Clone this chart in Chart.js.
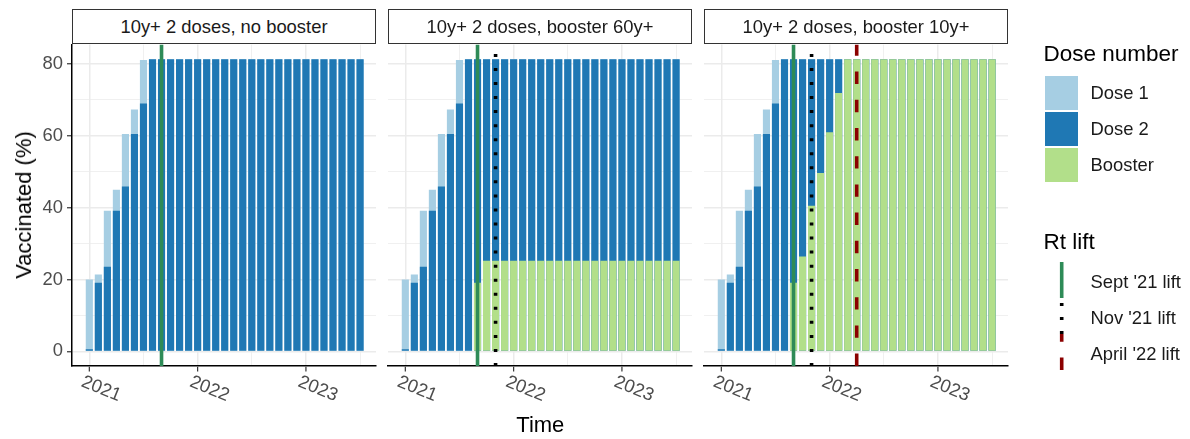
<!DOCTYPE html>
<html>
<head>
<meta charset="utf-8">
<script src="https://cdn.jsdelivr.net/npm/chart.js@4.4.1/dist/chart.umd.min.js"></script>
<style>
  html, body { margin:0; padding:0; background:#fff; }
  body { width:1190px; height:439px; overflow:hidden; position:relative; font-family:"Liberation Sans", Arial, sans-serif; }
  canvas { position:absolute; left:0; top:0; }
  .strip { position:absolute; top:9.3px; height:35px; width:304px; box-sizing:border-box; border:1.3px solid #333; background:#fff;
           font-size:18.4px; color:#1a1a1a; display:flex; align-items:center; justify-content:center; white-space:nowrap; z-index:5; }
  .title { position:absolute; font-size:22px; line-height:22px; color:#000; white-space:nowrap; }
  .ltitle { position:absolute; font-size:22.5px; line-height:22.5px; color:#000; white-space:nowrap; left:1043.5px; }
  .lkey { position:absolute; left:1045px; width:33px; height:34.5px; }
  .llab { position:absolute; left:1090.5px; height:36px; font-size:18.4px; color:#1a1a1a; display:flex; align-items:center; white-space:nowrap; }
</style>
</head>
<body>
<canvas id="p0" width="1190" height="439"></canvas>
<canvas id="p1" width="1190" height="439"></canvas>
<canvas id="p2" width="1190" height="439"></canvas>
<div id="strips"></div>
<div class="title" id="ytitle" style="left:24px; top:205px; transform:translate(-50%,-50%) rotate(-90deg);"></div>
<div class="title" id="xtitle" style="left:540.3px; top:414px; transform:translateX(-50%);"></div>
<div id="legend"></div>
<svg id="lsvg" width="1190" height="439" style="position:absolute;left:0;top:0;pointer-events:none"></svg>
<script>
// ---------------- DATA ----------------
const months = ['2021-01','2021-02','2021-03','2021-04','2021-05','2021-06','2021-07','2021-08','2021-09','2021-10',
                '2021-11','2021-12','2022-01','2022-02','2022-03','2022-04','2022-05','2022-06','2022-07','2022-08',
                '2022-09','2022-10','2022-11','2022-12','2023-01','2023-02','2023-03','2023-04','2023-05','2023-06','2023-07'];
const dose1 = [20.0, 21.4, 39.1, 44.9, 60.4, 67.2, 81.0, 81.2, 81.2, 81.2,
               81.2, 81.2, 81.2, 81.2, 81.2, 81.2, 81.2, 81.2, 81.2, 81.2,
               81.2, 81.2, 81.2, 81.2, 81.2, 81.2, 81.2, 81.2, 81.2, 81.2, 81.2];
const dose2 = [0.6, 19.1, 23.5, 39.1, 45.8, 60.4, 68.9, 81.2, 81.2, 81.2,
               81.2, 81.2, 81.2, 81.2, 81.2, 81.2, 81.2, 81.2, 81.2, 81.2,
               81.2, 81.2, 81.2, 81.2, 81.2, 81.2, 81.2, 81.2, 81.2, 81.2, 81.2];
const boosterNone = null;
const booster60 = [0, 0, 0, 0, 0, 0, 0, 0, 19.1, 25.2,
                   25.2, 25.2, 25.2, 25.2, 25.2, 25.2, 25.2, 25.2, 25.2, 25.2,
                   25.2, 25.2, 25.2, 25.2, 25.2, 25.2, 25.2, 25.2, 25.2, 25.2, 25.2];
const booster10 = [0, 0, 0, 0, 0, 0, 0, 0, 19.1, 26.4,
                   40.5, 49.6, 60.9, 71.8, 81.2, 81.2, 81.2, 81.2, 81.2, 81.2,
                   81.2, 81.2, 81.2, 81.2, 81.2, 81.2, 81.2, 81.2, 81.2, 81.2, 81.2];
const panelTitles = ['10y+ 2 doses, no booster', '10y+ 2 doses, booster 60y+', '10y+ 2 doses, booster 10y+'];
const panelBoosters = [boosterNone, booster60, booster10];
const liftLabels = ["Sept '21 lift", "Nov '21 lift", "April '22 lift"];
const liftDates = ['2021-09', '2021-11', '2022-04'];
const panelLifts = [[0], [0, 1], [0, 1, 2]];
const doseLabels = ['Dose 1', 'Dose 2', 'Booster'];
const yTickLabels = [0, 20, 40, 60, 80];
const yMinorTicks = [10, 30, 50, 70];
const xTickLabels = ['2021', '2022', '2023'];
const xMinorTicks = [2021.5, 2022.5, 2023.5];
const yTitle = 'Vaccinated (%)';
const xTitle = 'Time';
const legendTitles = ['Dose number', 'Rt lift'];

// ---------------- STYLE ----------------
const doseColors = ['#A6CEE3', '#1F78B4', '#B2DF8A'];
const liftStyles = [
  { color:'#2E8B57', dash:[] },
  { color:'#000000', dash:[3, 11.05] },
  { color:'#8B0000', dash:[12.4, 15.8] }
];
const FONT = '"Liberation Sans", Arial, sans-serif';
const X_MIN = 2020.840, X_MAX = 2023.647;
const Y_MIN = -4.06, Y_MAX = 85.26;
const panelLeft = [72, 388, 704];
const PANEL_W = 304, AREA_TOP = 44.6, AREA_BOTTOM = 366, W = 1190, H = 439;

const toYear = s => Number(s.slice(0, 4)) + (Number(s.slice(5, 7)) - 1) / 12;
const xs = months.map(toYear);
const pts = arr => arr.map((v, i) => ({ x: xs[i], y: v }));
const xMajor = xTickLabels.map(Number);

const xAxisPlugin = {
  id: 'xAxisTicks',
  afterDraw(chart) {
    const { ctx, chartArea } = chart;
    const sx = chart.scales.x;
    ctx.save();
    xMajor.forEach((v, i) => {
      const px = sx.getPixelForValue(v);
      ctx.strokeStyle = '#333333';
      ctx.lineWidth = 1.2;
      ctx.beginPath();
      ctx.moveTo(px, chartArea.bottom + 0.7);
      ctx.lineTo(px, chartArea.bottom + 5.5);
      ctx.stroke();
      ctx.save();
      ctx.translate(px - 9, chartArea.bottom + 20);
      ctx.rotate(22 * Math.PI / 180);
      ctx.fillStyle = '#4D4D4D';
      ctx.font = '18.4px ' + FONT;
      ctx.textAlign = 'left';
      ctx.textBaseline = 'alphabetic';
      ctx.fillText(xTickLabels[i], 0, 0);
      ctx.restore();
    });
    ctx.restore();
  }
};

function makePanel(p) {
  const left = panelLeft[p];
  const right = left + PANEL_W;
  const first = p === 0;
  const datasets = [];
  panelLifts[p].forEach(li => {
    const x = toYear(liftDates[li]);
    datasets.push({
      type: 'line', label: liftLabels[li], order: 0,
      data: [{ x: x, y: Y_MIN }, { x: x, y: Y_MAX }],
      borderColor: liftStyles[li].color, borderWidth: 3.6, borderDash: liftStyles[li].dash,
      borderCapStyle: 'butt', pointRadius: 0, fill: false, tension: 0
    });
  });
  if (panelBoosters[p]) {
    datasets.push({ label: doseLabels[2], order: 1, data: pts(panelBoosters[p]), backgroundColor: doseColors[2] });
  }
  datasets.push({ label: doseLabels[1], order: 2, data: pts(dose2), backgroundColor: doseColors[1] });
  datasets.push({ label: doseLabels[0], order: 3, data: pts(dose1), backgroundColor: doseColors[0] });

  const yTicksAll = yTickLabels.concat(yMinorTicks).sort((a, b) => a - b);
  const xTicksAll = xMajor.concat(xMinorTicks).sort((a, b) => a - b);

  new Chart(document.getElementById('p' + p), {
    type: 'bar',
    data: { datasets },
    options: {
      responsive: false, animation: false, devicePixelRatio: 1,
      datasets: { bar: { grouped: false, barPercentage: 0.79, categoryPercentage: 1.0, borderWidth: 0 } },
      layout: { padding: { left: first ? 0 : left, right: W - right, top: AREA_TOP, bottom: H - AREA_BOTTOM } },
      plugins: { legend: { display: false }, tooltip: { enabled: false } },
      scales: {
        x: {
          type: 'linear', min: X_MIN, max: X_MAX, offset: false,
          afterBuildTicks: s => { s.ticks = xTicksAll.map(v => ({ value: v })); },
          afterFit: s => { s.height = 0; },
          ticks: { display: false },
          grid: { offset: false, drawTicks: false, color: '#EBEBEB',
                  lineWidth: c => (c.tick && xMajor.includes(c.tick.value)) ? 1.5 : 0.75 },
          border: { display: true, color: '#000000', width: 1.5 }
        },
        y: {
          type: 'linear', min: Y_MIN, max: Y_MAX, stacked: false,
          afterBuildTicks: s => { s.ticks = yTicksAll.map(v => ({ value: v })); },
          afterFit: s => { s.width = first ? 72 : 0; },
          ticks: { display: first, padding: 4, color: '#4D4D4D', font: { family: FONT, size: 18.4 },
                   callback: v => yTickLabels.includes(v) ? String(v) : '' },
          grid: { drawTicks: first, tickLength: 5, color: '#EBEBEB',
                  tickColor: c => (c.tick && yTickLabels.includes(c.tick.value)) ? '#333333' : 'rgba(0,0,0,0)',
                  tickWidth: 1.2,
                  lineWidth: c => (c.tick && yTickLabels.includes(c.tick.value)) ? 1.5 : 0.75 },
          border: { display: first, color: '#000000', width: 1.5 }
        }
      }
    },
    plugins: [xAxisPlugin]
  });
}
[0, 1, 2].forEach(makePanel);

// strips
const strips = document.getElementById('strips');
panelTitles.forEach((t, p) => {
  const d = document.createElement('div');
  d.className = 'strip';
  d.style.left = panelLeft[p] + 'px';
  d.textContent = t;
  strips.appendChild(d);
});
document.getElementById('ytitle').textContent = yTitle;
document.getElementById('xtitle').textContent = xTitle;

// legend
const lg = document.getElementById('legend');
function addDiv(cls, text, style) {
  const d = document.createElement('div');
  d.className = cls;
  if (text) d.textContent = text;
  Object.assign(d.style, style);
  lg.appendChild(d);
  return d;
}
addDiv('ltitle', legendTitles[0], { top: '43px' });
doseLabels.forEach((l, i) => {
  const top = 75.5 + i * 36;
  addDiv('lkey', '', { top: top + 'px', background: doseColors[i] });
  addDiv('llab', l, { top: (top - 0.7) + 'px' });
});
addDiv('ltitle', legendTitles[1], { top: '231px' });
const svg = document.getElementById('lsvg');
liftLabels.forEach((l, i) => {
  const top = 262 + i * 36;
  addDiv('llab', l, { top: (top + 1.5) + 'px' });
  const ln = document.createElementNS('http://www.w3.org/2000/svg', 'line');
  ln.setAttribute('x1', 1061.7); ln.setAttribute('x2', 1061.7);
  ln.setAttribute('y1', top + 36); ln.setAttribute('y2', top);
  ln.setAttribute('stroke', liftStyles[i].color);
  ln.setAttribute('stroke-width', 3.6);
  if (liftStyles[i].dash.length) ln.setAttribute('stroke-dasharray', liftStyles[i].dash.join(' '));
  svg.appendChild(ln);
});
</script>
</body>
</html>
